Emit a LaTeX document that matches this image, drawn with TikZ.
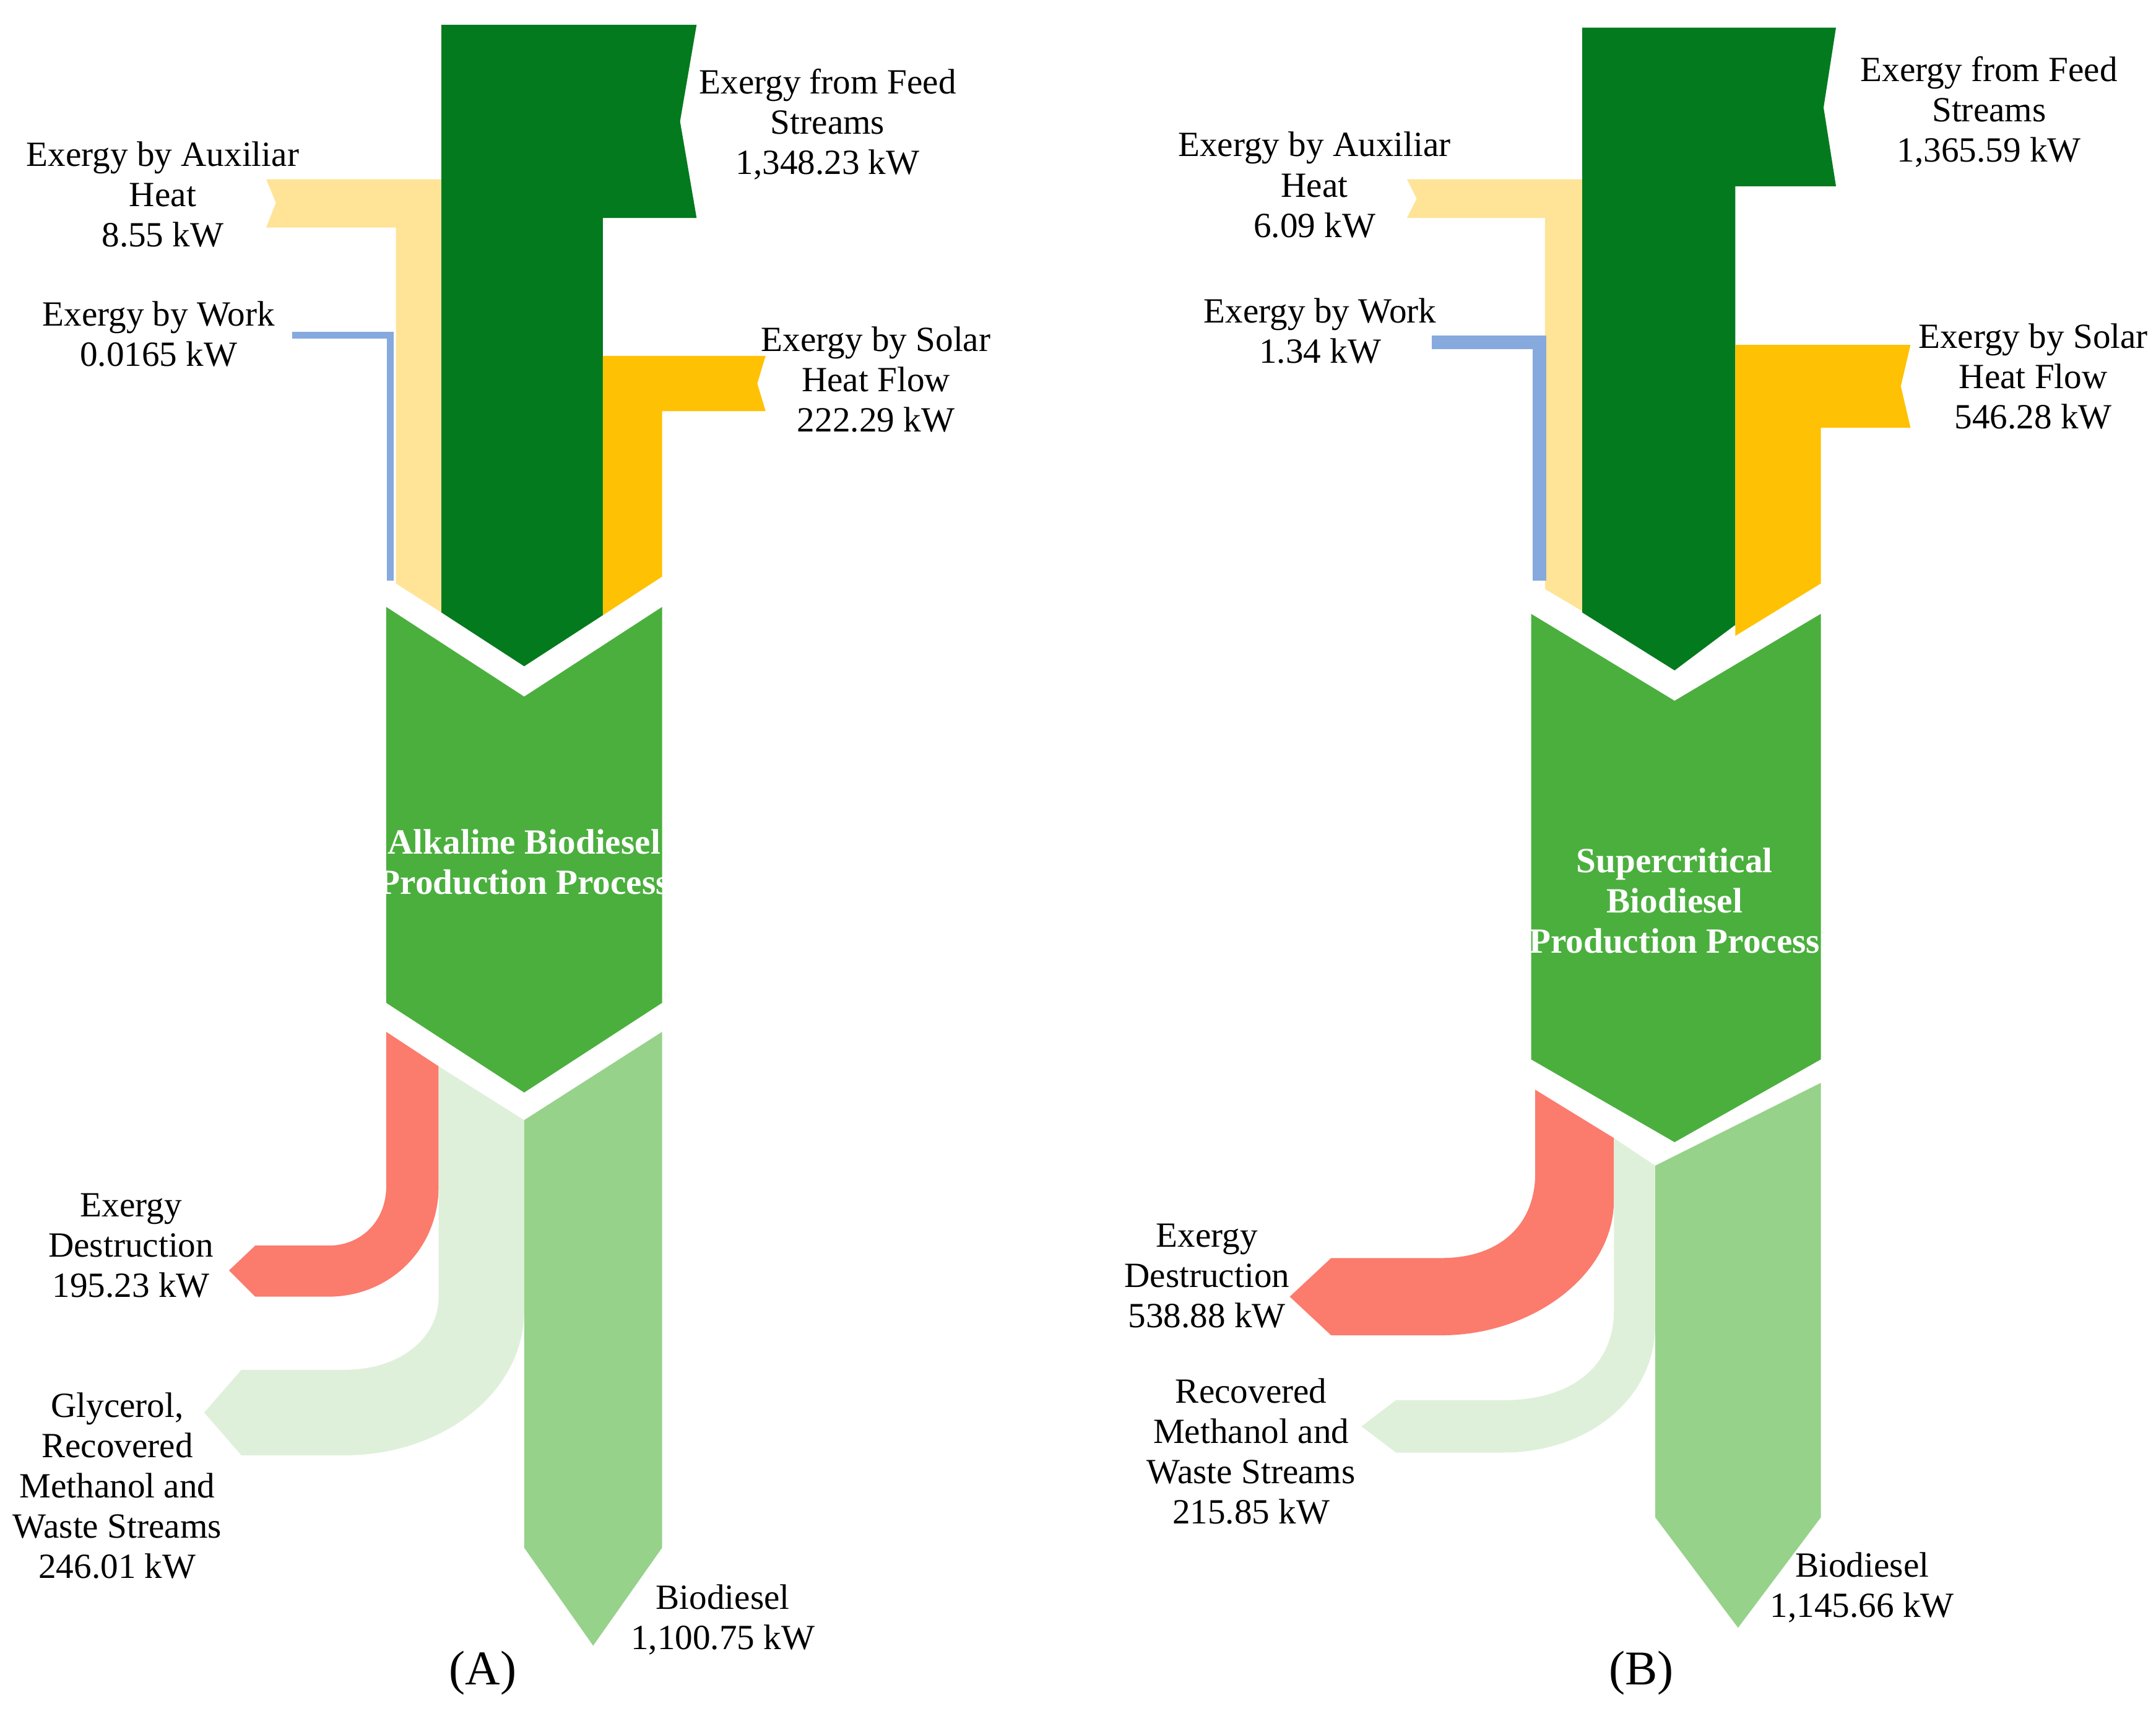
\documentclass[tikz,border=0pt]{standalone}
\usepackage{fontspec}
\setmainfont{Liberation Serif}
\definecolor{dg}{HTML}{037A1E}
\definecolor{ly}{HTML}{FFE396}
\definecolor{gy}{HTML}{FFC103}
\definecolor{bl}{HTML}{86A9DE}
\definecolor{pg}{HTML}{4BAF3E}
\definecolor{rd}{HTML}{FB7B6D}
\definecolor{pl}{HTML}{DFF0DA}
\definecolor{bd}{HTML}{96D28A}
\begin{document}
\begin{tikzpicture}[x=0.01cm,y=-0.01cm,
  lab/.style={align=center,font=\fontsize{7.3pt}{8.3pt}\selectfont,inner sep=0pt},
  plab/.style={align=center,font=\fontsize{7.3pt}{8.3pt}\selectfont\bfseries,text=white,inner sep=0pt},
  big/.style={font=\fontsize{10pt}{11pt}\selectfont,inner sep=0pt}]
\useasboundingbox (0,0) rectangle (1563,1240);
% ---------- Panel A ----------
\fill[ly] (193,130)--(320,130)--(320,444)--(287,423)--(287,165)--(193,165)--(200,147)--cycle;
\draw[bl,line width=1.4pt] (212,243)--(283,243)--(283,421);
\fill[dg] (320,18)--(505,18)--(493,88)--(505,158)--(437,158)--(437,446)--(380,483)--(320,444)--cycle;
\fill[gy] (437,258)--(555,258)--(549,278)--(555,298)--(480,298)--(480,418)--(437,446)--cycle;
\fill[pg] (280,440)--(380,505)--(480,440)--(480,727)--(380,792)--(280,727)--cycle;
\node[plab] (pa) at (380,625) {Alkaline Biodiesel\\Production Process};
\fill[rd] (280,748)--(318,773)--(318,860) .. controls (318,905) and (283,940) .. (238,940)--(185,940)--(166,921)--(185,903)--(238,903) .. controls (262,903) and (280,885) .. (280,860)--cycle;
\fill[pl] (318,773)--(380,812)--(380,950) .. controls (380,1010) and (320,1055) .. (250,1055)--(175,1055)--(148,1024)--(175,993)--(250,993) .. controls (290,993) and (318,970) .. (318,940)--cycle;
\fill[bd] (380,812)--(480,748)--(480,1122)--(430,1193)--(380,1122)--cycle;
\node[lab] (a1) at (600,90) {Exergy from Feed\\Streams\\1,348.23 kW};
\node[lab] (a2) at (118,141) {Exergy by Auxiliar\\Heat\\8.55 kW};
\node[lab] (a3) at (115,242) {Exergy by Work\\0.0165 kW};
\node[lab] (a4) at (635,275) {Exergy by Solar\\Heat Flow\\222.29 kW};
\node[lab] (a5) at (95,903) {Exergy\\Destruction\\195.23 kW};
\node[lab] (a6) at (85,1077) {Glycerol,\\Recovered\\Methanol and\\Waste Streams\\246.01 kW};
\node[lab] (a7) at (524,1174) {Biodiesel\\1,100.75 kW};
\node[big] (la) at (350,1213) {(A)};
% ---------- Panel B ----------
\fill[ly] (1020,130)--(1147,130)--(1147,443)--(1120,427)--(1120,158)--(1020,158)--(1027,144)--cycle;
\draw[bl,line width=2.8pt] (1038,248)--(1116,248)--(1116,421);
\fill[dg] (1147,20)--(1331,20)--(1322,78)--(1331,135)--(1258,135)--(1258,453)--(1214,486)--(1147,444)--cycle;
\fill[gy] (1258,250)--(1385,250)--(1378,280)--(1385,310)--(1320,310)--(1320,423)--(1258,461)--cycle;
\fill[pg] (1110,445)--(1214,508)--(1320,445)--(1320,768)--(1214,828)--(1110,768)--cycle;
\node[plab] (pb) at (1214,653) {Supercritical\\Biodiesel\\Production Process};
\fill[rd] (1113,790)--(1170,825)--(1170,870) .. controls (1170,925) and (1110,968) .. (1045,968)--(965,968)--(935,940)--(965,912)--(1045,912) .. controls (1085,912) and (1113,890) .. (1113,850)--cycle;
\fill[pl] (1170,825)--(1200,845)--(1200,960) .. controls (1200,1015) and (1150,1053) .. (1090,1053)--(1012,1053)--(987,1034)--(1012,1015)--(1090,1015) .. controls (1140,1015) and (1170,990) .. (1170,950)--cycle;
\fill[bd] (1200,845)--(1320,785)--(1320,1100)--(1260,1180)--(1200,1100)--cycle;
\node[lab] (b1) at (1442,81) {Exergy from Feed\\Streams\\1,365.59 kW};
\node[lab] (b2) at (953,134) {Exergy by Auxiliar\\Heat\\6.09 kW};
\node[lab] (b3) at (957,240) {Exergy by Work\\1.34 kW};
\node[lab] (b4) at (1474,273) {Exergy by Solar\\Heat Flow\\546.28 kW};
\node[lab] (b5) at (875,925) {Exergy\\Destruction\\538.88 kW};
\node[lab] (b6) at (907,1052) {Recovered\\Methanol and\\Waste Streams\\215.85 kW};
\node[lab] (b7) at (1350,1151) {Biodiesel\\1,145.66 kW};
\node[big] (lb) at (1190,1213) {(B)};
\end{tikzpicture}
\end{document}
